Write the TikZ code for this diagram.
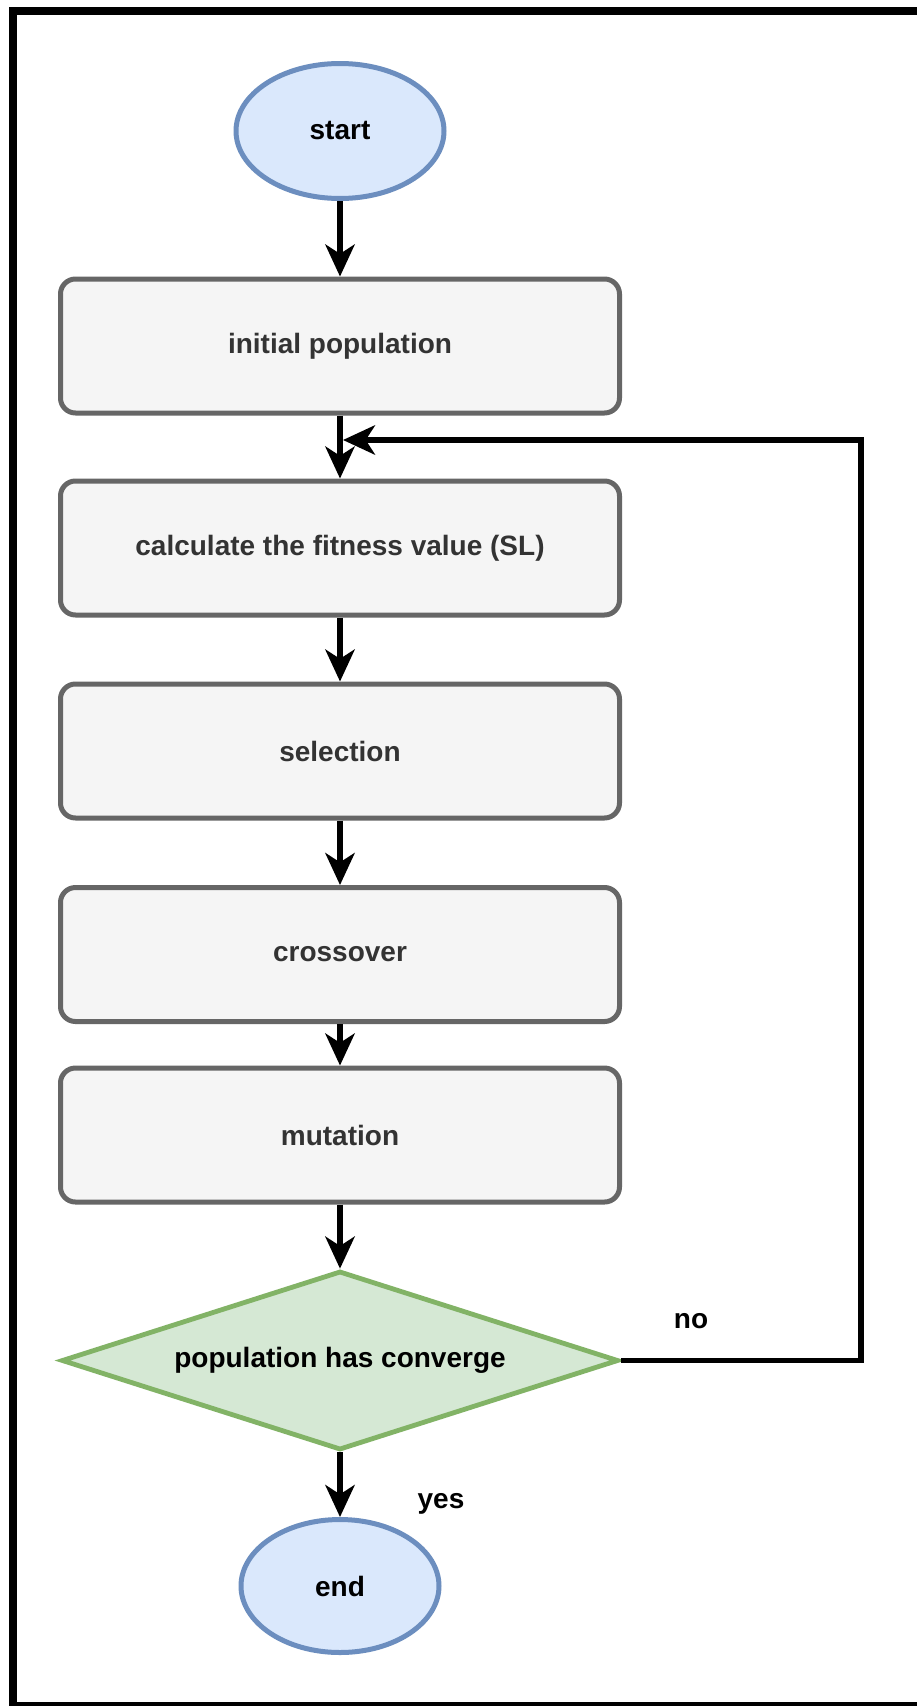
\documentclass[tikz,border=0pt]{standalone}
\usepackage{fontspec}
\setmainfont{Liberation Sans}
\usetikzlibrary{shapes.geometric,arrows.meta}
\definecolor{procfill}{HTML}{F5F5F5}
\definecolor{procline}{HTML}{666666}
\definecolor{proctext}{HTML}{333333}
\definecolor{termfill}{HTML}{DAE8FC}
\definecolor{termline}{HTML}{6C8EBF}
\definecolor{decfill}{HTML}{D5E8D4}
\definecolor{decline}{HTML}{82B366}

\begin{document}
\begin{tikzpicture}[x=0.75pt,y=-0.75pt,
  every node/.style={font=\fontsize{21}{25}\selectfont\bfseries},
  process/.style={rectangle, rounded corners=11.25pt, draw=procline, fill=procfill,
    line width=3.75pt, text=proctext, minimum width=419.25pt, minimum height=100.5pt},
  terminal/.style={ellipse, draw=termline, fill=termfill, line width=3.75pt, text=black},
  decision/.style={diamond, draw=decline, fill=decfill, line width=3.6pt, aspect=3.1,
    minimum width=417.75pt, minimum height=134.25pt, inner sep=0pt, text=black},
  flow/.style={draw=black, line width=3.9pt,
    -{Stealth[length=24pt,width=22pt,inset=7pt]}},
  edgelabel/.style={text=black}
]
\useasboundingbox (0,0) rectangle (917,1706);

% page background and outer frame
\begin{scope}
  \clip (0,0) rectangle (917,1706);
  \fill[white] (0,0) rectangle (917,1706);
  \draw[line width=6pt] (12.5,10.5) rectangle (940,1706);
\end{scope}

% flowchart nodes
\node[terminal, minimum width=156pt, minimum height=101.25pt] (start) at (340,131) {start};
\node[process] (init)  at (340,346)    {initial population};
\node[process] (fit)   at (340,548)    {calculate the fitness value (SL)};
\node[process] (sel)   at (340,751)    {selection};
\node[process] (cross) at (340,954.5)  {crossover};
\node[process] (mut)   at (340,1135)   {mutation};
\node[decision] (conv) at (340,1360.5) {population has converge};
\node[terminal, minimum width=148.5pt, minimum height=99.75pt] (end) at (340,1586) {end};

% main flow
\draw[flow] (start) -- (init);
\draw[flow] (init) -- (fit);
\draw[flow] (fit) -- (sel);
\draw[flow] (sel) -- (cross);
\draw[flow] (cross) -- (mut);
\draw[flow] (mut) -- (conv);
\draw[flow] (conv) -- (end);

% loop back when not converged
\coordinate (loopcorner) at (861,440);
\coordinate (merge) at (343,440);
\draw[flow] (conv.east) -| (loopcorner) -- (merge);

% branch labels
\node[edgelabel, anchor=base] (nolabel)  at (691,1328) {no};
\node[edgelabel, anchor=base] (yeslabel) at (441,1508) {yes};
\end{tikzpicture}
\end{document}
